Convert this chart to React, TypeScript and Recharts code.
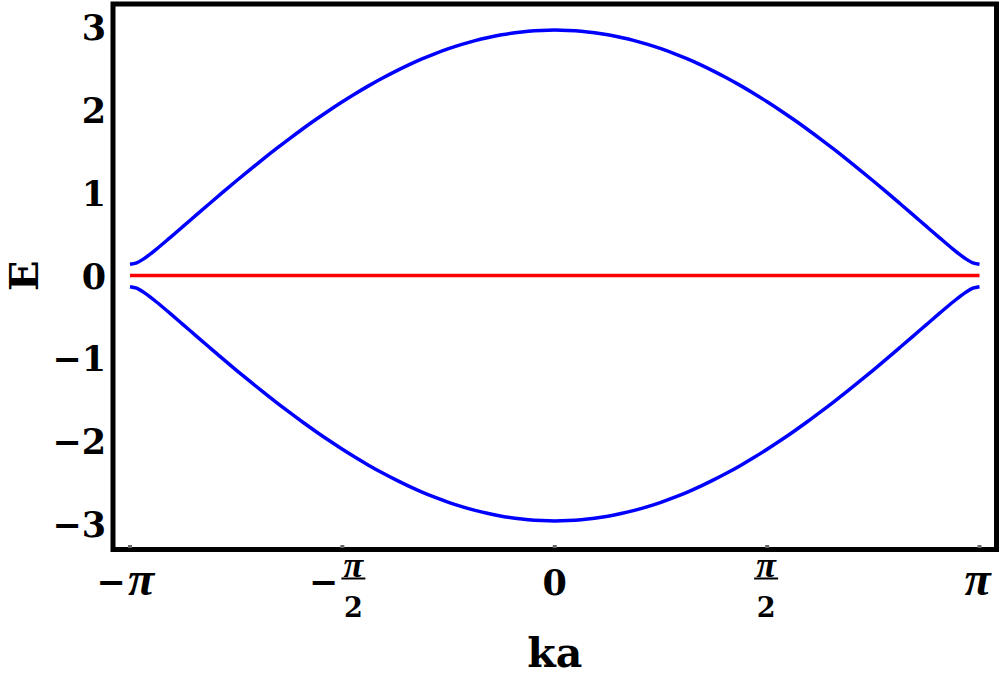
import React from "react";
import { LineChart, Line, XAxis, YAxis, ReferenceArea, Label } from "recharts";

// k in units of pi
const kOverPi = [
  -1, -0.984375, -0.96875, -0.9375, -0.90625, -0.875, -0.84375, -0.8125, -0.78125,
  -0.75, -0.71875, -0.6875, -0.65625, -0.625, -0.59375, -0.5625, -0.53125, -0.5,
  -0.46875, -0.4375, -0.40625, -0.375, -0.34375, -0.3125, -0.28125, -0.25, -0.21875,
  -0.1875, -0.15625, -0.125, -0.09375, -0.0625, -0.03125, 0, 0.03125, 0.0625,
  0.09375, 0.125, 0.15625, 0.1875, 0.21875, 0.25, 0.28125, 0.3125, 0.34375, 0.375,
  0.40625, 0.4375, 0.46875, 0.5, 0.53125, 0.5625, 0.59375, 0.625, 0.65625, 0.6875,
  0.71875, 0.75, 0.78125, 0.8125, 0.84375, 0.875, 0.90625, 0.9375, 0.96875, 0.984375, 1,
];
const upperBand = [
  0.135, 0.153, 0.198, 0.32, 0.455, 0.593, 0.732, 0.87, 1.007, 1.142, 1.274, 1.403,
  1.529, 1.651, 1.77, 1.884, 1.994, 2.099, 2.199, 2.294, 2.383, 2.466, 2.544, 2.616,
  2.681, 2.74, 2.792, 2.838, 2.876, 2.908, 2.933, 2.951, 2.961, 2.965, 2.961, 2.951,
  2.933, 2.908, 2.876, 2.838, 2.792, 2.74, 2.681, 2.616, 2.544, 2.466, 2.383, 2.294,
  2.199, 2.099, 1.994, 1.884, 1.77, 1.651, 1.529, 1.403, 1.274, 1.142, 1.007, 0.87,
  0.732, 0.593, 0.455, 0.32, 0.198, 0.153, 0.135,
];
const lowerBand = [
  -0.135, -0.153, -0.198, -0.32, -0.455, -0.593, -0.732, -0.87, -1.007, -1.142,
  -1.274, -1.403, -1.529, -1.651, -1.77, -1.884, -1.994, -2.099, -2.199, -2.294,
  -2.383, -2.466, -2.544, -2.616, -2.681, -2.74, -2.792, -2.838, -2.876, -2.908,
  -2.933, -2.951, -2.961, -2.965, -2.961, -2.951, -2.933, -2.908, -2.876, -2.838,
  -2.792, -2.74, -2.681, -2.616, -2.544, -2.466, -2.383, -2.294, -2.199, -2.099,
  -1.994, -1.884, -1.77, -1.651, -1.529, -1.403, -1.274, -1.142, -1.007, -0.87,
  -0.732, -0.593, -0.455, -0.32, -0.198, -0.153, -0.135,
];
const flatBand = kOverPi.map(() => 0);

const xTicks = [-1, -0.5, 0, 0.5, 1];
const xTickLabels = ["−π", "−π/2", "0", "π/2", "π"];
const yTicks = [-3, -2, -1, 0, 1, 2, 3];
const yTickLabels = ["−3", "−2", "−1", "0", "1", "2", "3"];

const data = kOverPi.map((k, i) => ({
  k,
  upper: upperBand[i],
  lower: lowerBand[i],
  flat: flatBand[i],
}));

const FONT = "'DejaVu Serif', serif";
const PI_FONT = "'Liberation Serif', serif";
const TICK_SIZE = 35;
const PI_SIZE = 48;
const FRAC_SIZE = 27;
const FRAC_PI_SIZE = 36;

const Pi = ({ size }: { size: number }) => (
  <tspan fontFamily={PI_FONT} fontStyle="italic" fontWeight="bold" fontSize={size}>
    π
  </tspan>
);

const XTick = (props: any) => {
  const { x, y, payload } = props;
  const idx = xTicks.indexOf(payload.value);
  const label = xTickLabels[idx] ?? String(payload.value);
  const mark = <rect x={x - 2} y={y - 4.5} width={4} height={3} fill="#666" />;
  if (label.includes("/")) {
    const neg = label.startsWith("−");
    const fx = neg ? x + 11 : x - 1;
    return (
      <g fontFamily={FONT} fontWeight="bold" fill="#000">
        {mark}
        {neg && (
          <text x={x - 19} y={y + 44} textAnchor="middle" fontSize={TICK_SIZE}>
            −
          </text>
        )}
        <text x={fx} y={y + 27} textAnchor="middle" fontSize={FRAC_SIZE}>
          <Pi size={FRAC_PI_SIZE} />
        </text>
        <line x1={fx - 12} x2={fx + 12} y1={y + 29} y2={y + 29} stroke="#000" strokeWidth={2} />
        <text x={fx} y={y + 67} textAnchor="middle" fontSize={FRAC_SIZE}>
          2
        </text>
      </g>
    );
  }
  if (label.includes("π")) {
    const neg = label.startsWith("−");
    return (
      <g fontFamily={FONT} fontWeight="bold" fill="#000">
        {mark}
        {neg && (
          <text x={x - 19} y={y + 44} textAnchor="middle" fontSize={TICK_SIZE}>
            −
          </text>
        )}
        <text x={neg ? x + 11 : x - 2} y={y + 45} textAnchor="middle" fontSize={TICK_SIZE}>
          <Pi size={PI_SIZE} />
        </text>
      </g>
    );
  }
  return (
    <g fontFamily={FONT} fontWeight="bold" fill="#000">
      {mark}
      <text x={x} y={y + 45} textAnchor="middle" fontSize={TICK_SIZE}>
        {label}
      </text>
    </g>
  );
};

const YTick = (props: any) => {
  const { x, y, payload } = props;
  const idx = yTicks.indexOf(payload.value);
  const label = yTickLabels[idx] ?? String(payload.value);
  return (
    <g>
      <text
        x={x - 7}
        y={y + 13}
        textAnchor="end"
        fontFamily={FONT}
        fontWeight="bold"
        fontSize={TICK_SIZE}
        fill="#000"
      >
        {label}
      </text>
    </g>
  );
};

const XLabel = (props: any) => {
  const vb = props.viewBox;
  return (
    <text
      x={vb.x + vb.width / 2}
      y={vb.y + 117}
      textAnchor="middle"
      fontFamily={FONT}
      fontWeight="bold"
      fontSize={41}
      fill="#000"
    >
      ka
    </text>
  );
};

const YLabel = (props: any) => {
  const vb = props.viewBox;
  const cx = vb.x + 23;
  const cy = vb.y + vb.height / 2 - 1;
  return (
    <text
      x={cx}
      y={cy}
      transform={`rotate(-90 ${cx} ${cy})`}
      textAnchor="middle"
      dominantBaseline="central"
      fontFamily={FONT}
      fontWeight="bold"
      fontSize={40}
      fill="#000"
    >
      E
    </text>
  );
};

export default function App() {
  return (
    <div style={{ position: "absolute", left: 0, top: 0, background: "#fff" }}>
      <LineChart
        width={1000}
        height={675}
        data={data}
        margin={{ top: 4, right: 3.5, left: 0, bottom: 0 }}
      >
        <XAxis
          dataKey="k"
          type="number"
          domain={[-1.04, 1.04]}
          ticks={xTicks}
          allowDataOverflow
          height={125.5}
          axisLine={false}
          tickLine={false}
          tickSize={0}
          tickMargin={0}
          tick={<XTick />}
          interval={0}
        >
          <Label content={<XLabel />} />
        </XAxis>
        <YAxis
          type="number"
          domain={[-3.31, 3.28]}
          ticks={yTicks}
          allowDataOverflow
          width={113}
          axisLine={false}
          tickLine={false}
          tickSize={0}
          tickMargin={0}
          tick={<YTick />}
          interval={0}
        >
          <Label content={<YLabel />} />
        </YAxis>
        <ReferenceArea
          x1={-1.04}
          x2={1.04}
          y1={-3.31}
          y2={3.28}
          fill="none"
          fillOpacity={0}
          stroke="#000"
          strokeWidth={5}
          ifOverflow="visible"
        />
        <Line
          dataKey="upper"
          type="monotone"
          stroke="#0000ff"
          strokeWidth={3.5}
          dot={false}
          isAnimationActive={false}
        />
        <Line
          dataKey="lower"
          type="monotone"
          stroke="#0000ff"
          strokeWidth={3.5}
          dot={false}
          isAnimationActive={false}
        />
        <Line
          dataKey="flat"
          type="linear"
          stroke="#ff0000"
          strokeWidth={3.5}
          dot={false}
          isAnimationActive={false}
        />
      </LineChart>
    </div>
  );
}
